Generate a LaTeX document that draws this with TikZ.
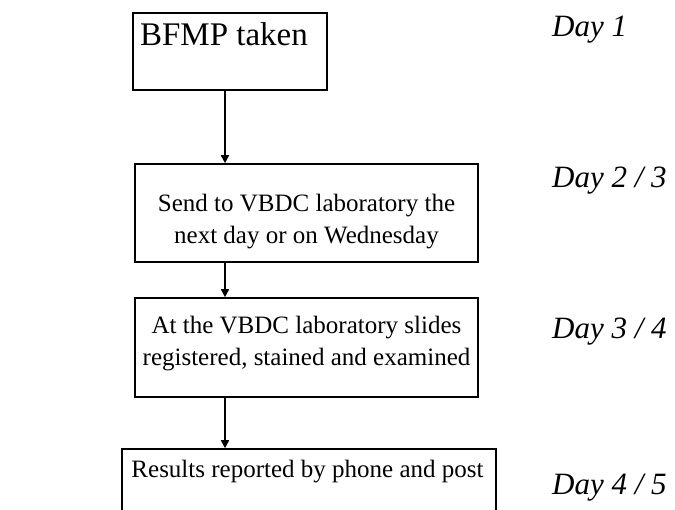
\documentclass[tikz,border=0pt]{standalone}
\usepackage{fontspec}
\setmainfont{Liberation Serif}
\usetikzlibrary{arrows.meta}
\begin{document}
\begin{tikzpicture}[x=1pt,y=-1pt,
  box/.style={draw,line width=1.6pt,inner sep=0pt},
  txt/.style={font=\fontsize{25}{32}\selectfont,align=center,inner sep=0pt},
  day/.style={font=\fontsize{31}{36}\selectfont\itshape,anchor=base west,inner sep=0pt},
  conn/.style={line width=1.6pt,-{Triangle[length=8pt,width=8pt]}}]
\clip (0,0) rectangle (675,509);
\fill[white] (0,0) rectangle (675,509);
% box 1
\node[box,minimum width=194pt,minimum height=77pt] (b1) at (230,51.5) {};
\node[font=\fontsize{33}{38}\selectfont,anchor=base,inner sep=0pt] (t1) at (224,45) {BFMP taken};
% box 2
\node[box,minimum width=343pt,minimum height=98pt] (b2) at (306.5,213) {};
\node[txt] (t2) at (306.5,222) {Send to VBDC laboratory the\\next day or on Wednesday};
% box 3
\node[box,minimum width=343pt,minimum height=99pt] (b3) at (306.5,347.5) {};
\node[txt] (t3) at (306.5,344) {At the VBDC laboratory slides\\registered, stained and examined};
% box 4
\node[box,minimum width=374pt,minimum height=90pt] (b4) at (309,494) {};
\node[txt] (t4) at (307.5,472) {Results reported by phone and post};
% connectors
\draw[conn] (b1.south -| 225,0) -- (b2.north -| 225,0);
\draw[conn] (b2.south -| 225,0) -- (b3.north -| 225,0);
\draw[conn] (b3.south -| 225,0) -- (b4.north -| 225,0);
% day labels
\node[day] (d1) at (552,36) {Day 1};
\node[day] (d2) at (552,187) {Day 2 / 3};
\node[day] (d3) at (552,338) {Day 3 / 4};
\node[day] (d4) at (552,494) {Day 4 / 5};
\end{tikzpicture}
\end{document}
